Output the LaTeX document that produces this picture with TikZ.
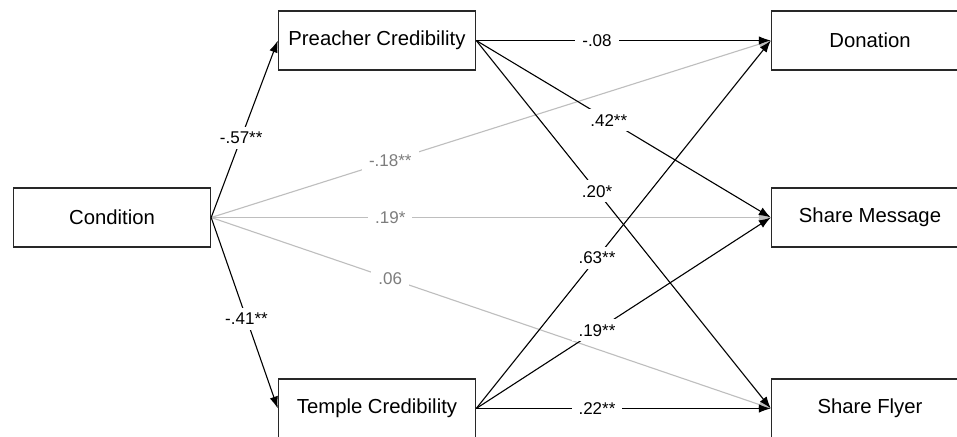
\documentclass[tikz,border=0pt]{standalone}
\usepackage{fontspec}
\setmainfont{Liberation Sans}
\usetikzlibrary{arrows.meta}
\definecolor{boxline}{RGB}{40,40,40}
\definecolor{lightline}{RGB}{190,190,190}
\definecolor{graytext}{RGB}{125,125,125}
\tikzset{
  varbox/.style={draw=boxline, line width=1.4pt, minimum width=197pt, minimum height=59pt, inner sep=0pt, font=\fontsize{20.3}{24}\selectfont},
  arr/.style={draw=black, line width=1.1pt, -{Latex[length=12pt,width=8.5pt]}},
  garr/.style={draw=lightline, line width=1.1pt, -{Latex[length=12pt,width=8.5pt]}},
  lab/.style={fill=white, inner xsep=7pt, inner ysep=5pt, font=\fontsize{17}{20}\selectfont, text=black},
  glab/.style={lab, text=graytext}
}
\begin{document}
\begin{tikzpicture}[x=1pt,y=-1pt]
\useasboundingbox (0,0) rectangle (957,436);
\fill[white] (0,0) rectangle (957,436);
\node[varbox] (cond) at (112,217.5) {Condition};
\node[varbox] (pc) at (377,40.5) {Preacher Credibility};
\node[varbox] (tc) at (377,408.5) {Temple Credibility};
\node[varbox] (don) at (870,40.5) {Donation};
\node[varbox] (sm) at (870,217.5) {Share Message};
\node[varbox] (sf) at (870,408.5) {Share Flyer};
% gray direct effects
\draw[garr] (cond.east) -- node[glab,pos=0.32]{-.18**} (don.west);
\draw[garr] (cond.east) -- node[glab,pos=0.32]{.19*} (sm.west);
\draw[garr] (cond.east) -- node[glab,pos=0.32]{.06} (sf.west);
% a paths
\draw[arr] (cond.east) -- node[lab,pos=0.45]{-.57**} (pc.west);
\draw[arr] (cond.east) -- node[lab,pos=0.53]{-.41**} (tc.west);
% b paths preacher
\draw[arr] (pc.east) -- node[lab,pos=0.41]{-.08} (don.west);
\draw[arr] (pc.east) -- node[lab,pos=0.45]{.42**} (sm.west);
\draw[arr] (pc.east) -- node[lab,pos=0.41]{.20*} (sf.west);
% b paths temple
\draw[arr] (tc.east) -- node[lab,pos=0.41]{.63**} (don.west);
\draw[arr] (tc.east) -- node[lab,pos=0.41]{.19**} (sm.west);
\draw[arr] (tc.east) -- node[lab,pos=0.41]{.22**} (sf.west);
\end{tikzpicture}
\end{document}
